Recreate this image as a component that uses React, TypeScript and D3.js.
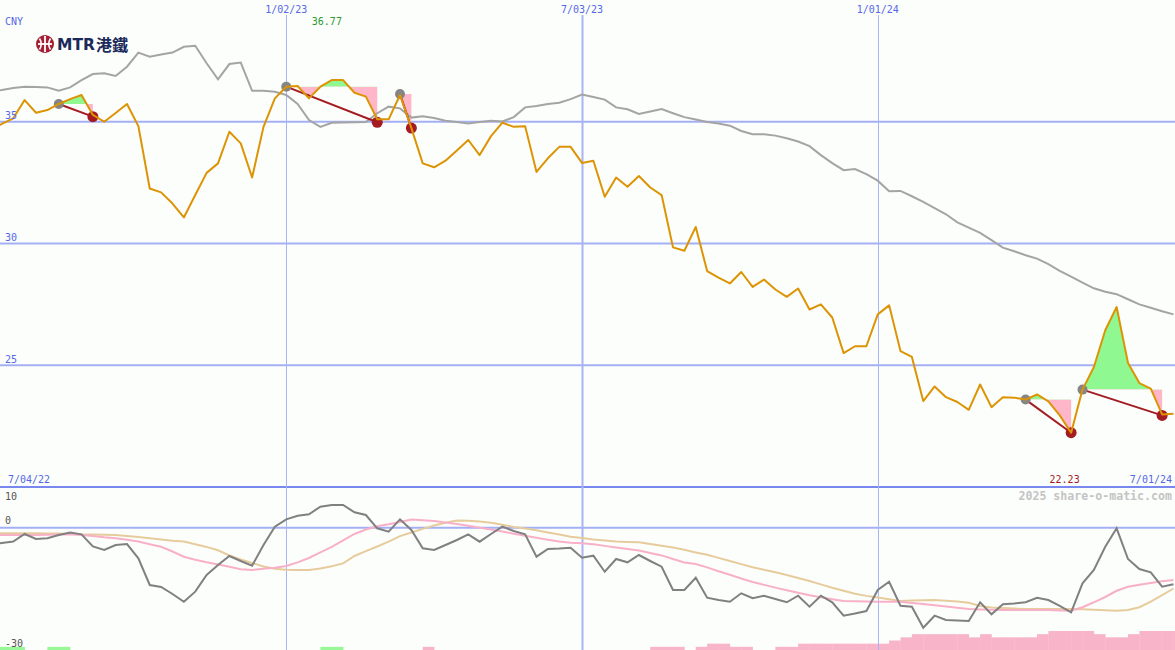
import * as d3 from "d3";

const W = 1175;
const H = 650;
const START = new Date(2022, 6, 4);
const END = new Date(2024, 6, 1);
// weekly closes, Monday dates
const weeks = d3.timeMonday.range(START, d3.timeDay.offset(END, 1));

const price = [
  34.70, 34.91, 35.14, 35.89, 35.37, 35.48, 35.73, 35.93, 36.10, 35.28,
  35.00, 35.36, 35.73, 34.82, 32.26, 32.10, 31.64, 31.07, 31.99, 32.90,
  33.29, 34.59, 34.11, 32.71, 34.79, 35.96, 36.44, 36.47, 35.96, 36.44,
  36.71, 36.71, 36.19, 36.03, 35.10, 35.10, 36.10, 34.74, 33.29, 33.13,
  33.40, 33.82, 34.25, 33.63, 34.41, 34.96, 34.79, 34.82, 32.94, 33.50,
  33.97, 33.97, 33.31, 33.40, 31.92, 32.71, 32.33, 32.77, 32.30, 31.99,
  29.84, 29.70, 30.68, 28.87, 28.60, 28.36, 28.83, 28.22, 28.52, 28.11,
  27.81, 28.15, 27.29, 27.50, 26.96, 25.50, 25.78, 25.78, 27.09, 27.46,
  25.58, 25.34, 23.53, 24.13, 23.69, 23.49, 23.17, 24.21, 23.28, 23.69,
  23.67, 23.59, 23.80, 23.52, 22.94, 22.23, 24.00, 24.93, 26.44, 27.39,
  25.09, 24.27, 24.04, 22.98, 23.01,
];

const movingAvg = [
  36.28, 36.30, 36.39, 36.44, 36.43, 36.41, 36.27, 36.41, 36.71, 36.96,
  36.99, 36.88, 37.26, 37.84, 37.67, 37.76, 37.84, 38.08, 38.12, 37.40,
  36.74, 37.37, 37.43, 36.27, 36.27, 36.23, 36.10, 35.73, 35.07, 34.79,
  34.96, 34.97, 34.98, 34.99, 35.35, 35.62, 35.55, 35.17, 35.23, 35.15,
  35.04, 34.99, 34.93, 34.99, 35.04, 35.01, 35.19, 35.59, 35.65, 35.73,
  35.78, 35.93, 36.12, 36.02, 35.91, 35.59, 35.51, 35.32, 35.42, 35.52,
  35.35, 35.19, 35.09, 34.99, 34.93, 34.84, 34.62, 34.49, 34.49, 34.43,
  34.32, 34.19, 34.00, 33.63, 33.30, 33.01, 33.06, 32.85, 32.58, 32.15,
  32.16, 31.94, 31.71, 31.45, 31.20, 30.87, 30.65, 30.44, 30.14, 29.83,
  29.68, 29.52, 29.38, 29.15, 28.88, 28.64, 28.39, 28.16, 28.02, 27.92,
  27.71, 27.50, 27.36, 27.22, 27.09,
];

const oscillator = [
  -4.23, -3.74, -3.37, -1.53, -2.76, -2.59, -1.78, -1.17, -1.61, -4.60,
  -5.46, -4.23, -3.99, -7.50, -14.05, -14.54, -16.26, -18.15, -15.69, -11.60,
  -9.14, -6.93, -8.16, -9.31, -4.23, 0.26, 2.07, 2.96, 3.30, 5.17,
  5.58, 5.58, 3.79, 3.13, -0.13, -0.97, 2.07, -0.55, -5.04, -5.46,
  -4.23, -3.01, -1.61, -3.42, -1.53, 0.26, -0.80, -1.61, -7.10, -5.21,
  -5.09, -4.90, -7.36, -6.86, -10.79, -7.67, -8.48, -6.69, -8.16, -9.56,
  -15.28, -15.28, -12.26, -17.17, -17.73, -18.15, -16.09, -17.31, -16.67, -17.48,
  -18.29, -16.67, -19.37, -16.67, -18.29, -21.58, -21.04, -20.43, -15.28, -13.24,
  -19.13, -19.37, -24.53, -21.58, -22.64, -22.76, -22.88, -18.29, -21.24, -18.79,
  -18.59, -18.29, -17.17, -17.73, -19.20, -20.75, -13.63, -10.37, -4.65, -0.13,
  -7.67, -10.12, -10.93, -14.47, -13.88,
];

const signalFast = [
  -1.78, -1.78, -1.78, -1.78, -1.78, -1.73, -1.66, -1.61, -1.78, -2.02,
  -2.34, -2.59, -2.96, -3.37, -4.04, -4.67, -5.83, -7.10, -7.83, -8.48,
  -9.02, -9.58, -10.17, -10.37, -10.07, -9.80, -9.39, -8.50, -7.42, -6.02,
  -4.67, -3.08, -1.53, -0.43, 0.36, 0.85, 1.41, 2.02, 1.83, 1.63,
  1.26, 0.92, 0.48, 0.01, -0.43, -0.92, -1.46, -1.98, -2.47, -2.96,
  -3.37, -3.69, -3.82, -4.06, -4.45, -4.82, -5.19, -5.56, -6.20, -6.79,
  -7.67, -8.53, -8.90, -9.73, -10.66, -11.55, -12.45, -13.31, -14.02, -14.69,
  -15.33, -15.96, -16.55, -17.04, -17.53, -17.98, -18.05, -18.12, -18.15, -18.15,
  -18.15, -18.44, -18.74, -19.03, -19.33, -19.62, -19.94, -20.04, -20.13, -20.18,
  -20.18, -20.18, -20.18, -20.18, -20.31, -20.38, -19.50, -18.29, -16.99, -15.47,
  -14.47, -14.00, -13.56, -13.14, -12.85,
];

const signalSlow = [
  -1.36, -1.36, -1.36, -1.36, -1.36, -1.39, -1.44, -1.51, -1.63, -1.68,
  -1.73, -1.78, -2.00, -2.29, -2.56, -2.88, -3.18, -3.37, -4.04, -4.70,
  -5.53, -6.81, -7.79, -8.65, -9.51, -10.05, -10.32, -10.37, -10.37, -10.02,
  -9.46, -8.75, -6.93, -5.75, -4.60, -3.40, -2.05, -1.17, -0.28, 0.53,
  1.21, 1.80, 1.73, 1.56, 1.24, 0.75, 0.21, -0.18, -0.60, -1.17,
  -1.68, -2.22, -2.49, -2.88, -3.15, -3.40, -3.47, -3.55, -3.99, -4.43,
  -4.87, -5.41, -6.05, -6.64, -7.40, -8.16, -8.92, -9.68, -10.32, -10.93,
  -11.60, -12.33, -13.07, -13.90, -14.71, -15.45, -16.21, -16.72, -17.12, -17.53,
  -17.95, -17.88, -17.80, -17.73, -17.90, -18.10, -18.42, -19.20, -19.55, -19.72,
  -19.84, -19.94, -19.94, -19.94, -19.94, -19.94, -20.01, -20.11, -20.23, -20.38,
  -20.18, -19.50, -18.12, -16.53, -14.91,
];

// weekly strength bars at the foot (+ green, - pink)
const strength = [
  1, 1, 1, 0, 0, 1, 1, 0, 0, 0,
  0, 0, 0, 0, 0, 0, 0, 0, 0, 0,
  0, 0, 0, 0, 0, 0, 0, 0, 0, 1,
  1, 0, 0, 0, 0, 0, 0, 0, -1, 0,
  0, 0, 0, 0, 0, 0, 0, 0, 0, 0,
  0, 0, 0, 0, 0, 0, 0, 0, -1, -1,
  -1, 0, -1, -2, -2, -1, -1, 0, 0, -1,
  -1, -2, -2, -2, -2, -2, -2, -2, -2, -3,
  -4, -5, -5, -5, -5, -5, -4, -5, -4, -4,
  -4, -4, -5, -6, -6, -6, -6, -5, -4, -4,
  -5, -6, -6, -6, -6,
];

// swing markers: high (grey) -> low (red)
const highIdx = [6, 26, 36, 91, 96];
const highVal = [35.73, 36.44, 36.14, 23.59, 24.0];
const lowIdx = [9, 34, 37, 95, 103];
const lowVal = [35.21, 34.98, 34.74, 22.23, 22.94];

const maxLabel = { date: new Date(2023, 0, 27), value: "36.77" };
const minLabel = { date: new Date(2024, 3, 25), value: "22.23" };

const gridDates = [new Date(2023, 0, 2), new Date(2023, 6, 3), new Date(2024, 0, 1)];
const priceTicks = [35, 30, 25];
const oscTicks = [10, 0, -30];

const x = d3.scaleTime().domain([START, END]).range([-9.5, 1173.5]);
const yP = d3.scaleLinear().domain([20, 40]).range([487, 0]);
const yO = d3.scaleLinear().domain([-30, 10]).range([650, 487]);
const barH = d3.scaleLinear().domain([0, 6]).range([0, 19]);
const fmt = d3.timeFormat("%-m/%d/%y");

const xi = (i: number) => x(weeks[i]);
const idx = d3.range(weeks.length);

const lineP = (vals: number[]) =>
  d3.line<number>().x(xi).y((i) => yP(vals[i]))(idx) || "";
const lineO = (vals: number[]) =>
  d3.line<number>().x(xi).y((i) => yO(vals[i]))(idx) || "";

const FONT = "'DejaVu Sans Mono', monospace";
const BLUE = "#5468e8";

export default function App() {
  return (
    <div>
      <style>{`body{margin:0}`}</style>
      <svg width={W} height={H} style={{ display: "block" }}>
        <defs>
          {highIdx.map((h, k) => (
            <g key={k}>
              <clipPath id={`up${k}`}>
                <rect x={0} y={0} width={W} height={yP(highVal[k])} />
              </clipPath>
              <clipPath id={`dn${k}`}>
                <rect x={0} y={yP(highVal[k])} width={W} height={487 - yP(highVal[k])} />
              </clipPath>
            </g>
          ))}
        </defs>
        <rect x={0} y={0} width={W} height={H} fill="#fcfefc" />

        {/* strength bars */}
        {strength.map((s, i) =>
          s === 0 ? null : (
            <rect
              key={i}
              x={xi(i)}
              y={H - barH(Math.abs(s))}
              width={xi(1) - xi(0) + 0.3}
              height={barH(Math.abs(s))}
              fill={s > 0 ? "#98f898" : "#f8b4c8"}
            />
          )
        )}

        {/* horizontal grid */}
        {priceTicks.map((t) => (
          <line key={t} x1={0} x2={W} y1={yP(t)} y2={yP(t)} stroke="#a4b0f4" strokeWidth={2} />
        ))}
        <line x1={0} x2={W} y1={yO(0)} y2={yO(0)} stroke="#a4b0f4" strokeWidth={2} />
        <line x1={0} x2={W} y1={yO(10)} y2={yO(10)} stroke="#7888ee" strokeWidth={2} />

        {/* vertical grid */}
        {gridDates.map((d, k) => (
          <line
            key={k}
            x1={Math.round(x(d)) + 0.5}
            x2={Math.round(x(d)) + 0.5}
            y1={15}
            y2={H}
            stroke="#a8b4f4"
            strokeWidth={k === 1 ? 2 : 1}
          />
        ))}

        {/* swing fills */}
        {highIdx.map((h, k) => {
          const seg = d3.range(h, lowIdx[k] + 1);
          const d =
            d3
              .area<number>()
              .x(xi)
              .y0(yP(highVal[k]))
              .y1((i) => yP(price[i]))(seg) || "";
          return (
            <g key={k}>
              <path d={d} fill="#90f890" clipPath={`url(#up${k})`} />
              <path d={d} fill="#ffb6c8" clipPath={`url(#dn${k})`} />
            </g>
          );
        })}

        {/* moving average */}
        <path d={lineP(movingAvg)} fill="none" stroke="#a4a4a4" strokeWidth={2} />

        {/* lower panel */}
        <path d={lineO(signalSlow)} fill="none" stroke="#e6cc9c" strokeWidth={2} />
        <path d={lineO(signalFast)} fill="none" stroke="#f8b0c8" strokeWidth={2} />
        <path d={lineO(oscillator)} fill="none" stroke="#808080" strokeWidth={2} />

        {/* swing links and markers */}
        {highIdx.map((h, k) => (
          <line
            key={k}
            x1={xi(h)}
            y1={yP(highVal[k])}
            x2={xi(lowIdx[k])}
            y2={yP(lowVal[k])}
            stroke="#a41c22"
            strokeWidth={2}
          />
        ))}
        {highIdx.map((h, k) => (
          <circle key={k} cx={xi(h)} cy={yP(highVal[k])} r={5} fill="#858585" />
        ))}
        {lowIdx.map((l, k) => (
          <circle key={k} cx={xi(l)} cy={yP(lowVal[k])} r={5.5} fill="#a41c22" />
        ))}

        {/* price */}
        <path d={lineP(price)} fill="none" stroke="#dc9405" strokeWidth={2} strokeLinejoin="round" />

        {/* labels */}
        <g fontFamily={FONT} fontSize={10}>
          <text x={5} y={25} fill={BLUE}>CNY</text>
          {priceTicks.map((t) => (
            <text key={t} x={5} y={yP(t) - 2.5} fill={BLUE}>{t}</text>
          ))}
          {oscTicks.map((t) => (
            <text key={t} x={5} y={t === 10 ? yO(t) + 12.5 : yO(t) - 3.5} fill="#555">{t}</text>
          ))}
          {gridDates.map((d, k) => (
            <text key={k} x={x(d)} y={13} textAnchor="middle" fill={BLUE}>{fmt(d)}</text>
          ))}
          <text x={8} y={483} fill={BLUE}>{fmt(START)}</text>
          <text x={1172} y={483} textAnchor="end" fill={BLUE}>{fmt(END)}</text>
          <text x={x(maxLabel.date)} y={25} textAnchor="middle" fill="#2a9a2a">{maxLabel.value}</text>
          <text x={x(minLabel.date)} y={483} textAnchor="middle" fill="#a41c22">{minLabel.value}</text>
          <text x={1172} y={500} textAnchor="end" fill="#c4c4c4" fontSize={11.6} fontWeight="bold">
            2025 share-o-matic.com
          </text>
        </g>

        {/* MTR logo */}
        <g>
          <circle cx={45} cy={44} r={9} fill="#a51f33" />
          <line x1={45} y1={36} x2={45} y2={52} stroke="#fff" strokeWidth={1.8} />
          <line x1={38} y1={44} x2={52} y2={44} stroke="#fff" strokeWidth={1.8} />
          <path d="M39.5,38.5 Q43,44 39.5,49.5" fill="none" stroke="#fff" strokeWidth={1.6} />
          <path d="M50.5,38.5 Q47,44 50.5,49.5" fill="none" stroke="#fff" strokeWidth={1.6} />
          <text x={57} y={50} fontFamily="'DejaVu Sans', sans-serif" fontWeight="bold" fontSize={15.5} fill="#1b2a5a">
            MTR
          </text>
          <text x={96} y={51} fontFamily="'Noto Sans CJK TC', sans-serif" fontWeight="bold" fontSize={16} fill="#1b2a5a">
            港鐵
          </text>
        </g>
      </svg>
    </div>
  );
}
